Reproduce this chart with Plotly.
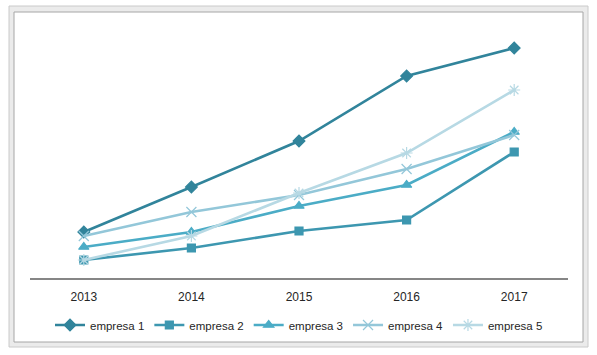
import plotly.graph_objects as go

years = ["2013", "2014", "2015", "2016", "2017"]
empresa_1 = [46, 91, 137, 202, 230]
empresa_2 = [18, 30, 47, 58, 126]
empresa_3 = [31, 46, 72, 93, 146]
empresa_4 = [42, 66, 83, 109, 143]
empresa_5 = [18, 42, 85, 125, 188]

series = [
    ("empresa 1", empresa_1, "#31849B", "diamond", 9),
    ("empresa 2", empresa_2, "#3D97B0", "square", 8),
    ("empresa 3", empresa_3, "#4BACC6", "triangle-up", 9),
    ("empresa 4", empresa_4, "#93C7D9", "x-thin-open", 10),
    ("empresa 5", empresa_5, "#B7D9E4", "asterisk-open", 10),
]

fig = go.Figure()
for name, vals, color, sym, size in series:
    fig.add_trace(go.Scatter(
        x=years, y=vals, name=name, mode="lines+markers",
        line=dict(color=color, width=2.6),
        marker=dict(symbol=sym, size=size, color=color,
                    line=dict(color=color, width=1.2)),
    ))

W, H = 597, 355
L, R, T, B = 30, 568, 20, 278
def px(x):
    return (x - L) / (R - L)
def py(y):
    return (B - y) / (B - T)

shapes = [
    dict(type="rect", xref="paper", yref="paper", layer="below",
         x0=px(9), x1=px(588), y0=py(347), y1=py(6),
         fillcolor="#EBEBEB", line=dict(color="#CACACA", width=1)),
    dict(type="rect", xref="paper", yref="paper", layer="below",
         x0=px(14), x1=px(583), y0=py(342), y1=py(12),
         fillcolor="#FFFFFF", line=dict(color="#A6A6A6", width=1)),
]

fig.update_layout(
    width=W, height=H,
    margin=dict(l=L, r=W - R, t=T, b=H - B, autoexpand=False),
    paper_bgcolor="white", plot_bgcolor="white",
    shapes=shapes,
    showlegend=True,
    legend=dict(orientation="h", x=0.5, xanchor="center", y=py(325), yanchor="middle",
                font=dict(family="Liberation Sans", size=11.5, color="#262626"),
                itemwidth=30, bgcolor="rgba(0,0,0,0)", tracegroupgap=0),
    font=dict(family="Liberation Sans", size=11, color="#262626"),
    xaxis=dict(type="category", range=[-0.5, 4.5], showgrid=False, zeroline=False,
               showline=True, linecolor="#868686", linewidth=1.5,
               ticks="", ticklabelstandoff=7,
               tickfont=dict(family="Liberation Sans", size=12, color="#262626")),
    yaxis=dict(range=[0, 258], showgrid=False, zeroline=False, showline=False,
               showticklabels=False, ticks=""),
)

fig.write_html("out.html", config={"displayModeBar": False},
               post_script="document.body.style.margin='0';document.body.style.padding='0';")
